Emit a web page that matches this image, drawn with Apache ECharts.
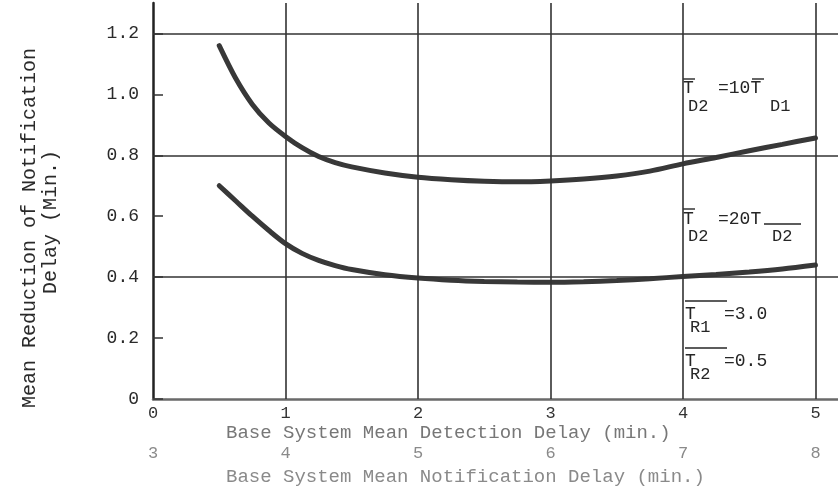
<!DOCTYPE html>
<html>
<head>
<meta charset="utf-8">
<script src="https://cdn.jsdelivr.net/npm/echarts@6/dist/echarts.min.js"></script>
<style>
  html, body { margin: 0; padding: 0; background: #fff; }
  #chart { width: 838px; height: 495px; }
</style>
</head>
<body>
<div id="chart"></div>
<script>
// Base system mean detection delay (min.)
const detectionDelay = [0.5, 0.625, 0.75, 0.875, 1, 1.125, 1.25, 1.375, 1.5, 1.75, 2, 2.25, 2.5, 2.75, 3,
                        3.25, 3.5, 3.75, 4, 4.25, 4.5, 4.75, 5];
// Mean reduction of notification delay, T_D2 = 10 T_D1
const reduction10x = [1.16, 1.052, 0.967, 0.906, 0.862, 0.825, 0.796, 0.776, 0.762, 0.742, 0.728,
                      0.720, 0.715, 0.713, 0.716, 0.722, 0.732, 0.748, 0.772, 0.793, 0.815, 0.836, 0.857];
// Mean reduction of notification delay, T_D2 = 20 T_D2
const reduction20x = [0.70, 0.65, 0.60, 0.553, 0.51, 0.478, 0.455, 0.438, 0.425, 0.408, 0.397,
                      0.390, 0.386, 0.384, 0.383, 0.385, 0.389, 0.395, 0.402, 0.409, 0.417, 0.427, 0.44];

const detectionTicks = [0, 1, 2, 3, 4, 5];
const notificationTicks = [3, 4, 5, 6, 7, 8];
const reductionTicks = [0, 0.2, 0.4, 0.6, 0.8, 1.0, 1.2];
const gridRows = [0.4, 0.8, 1.2];
const gridCols = [1, 2, 3, 4, 5];

const MONO = '"Liberation Mono", "DejaVu Sans Mono", monospace';
const ink = '#262626';

const chart = echarts.init(document.getElementById('chart'), null, { renderer: 'canvas' });

function pairs(xs, ys) { return xs.map((x, i) => [x, ys[i]]); }

// typed-style annotation pieces: main text, lowered subscripts and overlines
function annot(items) {
  const els = [];
  items.forEach(it => {
    if (it.kind === 'line') {
      els.push({ type: 'line', shape: { x1: it.x1, y1: it.y, x2: it.x2, y2: it.y },
        style: { stroke: ink, lineWidth: 1.4 } });
    } else {
      els.push({ type: 'text', x: it.x, y: it.y,
        style: { text: it.t, font: (it.size || 18) + 'px ' + MONO, fill: ink,
                 align: 'left', verticalAlign: 'middle' } });
    }
  });
  return els;
}

const annotations = annot([
  // T_D2 = 10 T_D1
  { kind: 'line', x1: 683, x2: 695, y: 79 },
  { t: 'T', x: 683, y: 88 },
  { t: 'D2', x: 688, y: 106, size: 17 },
  { t: '=10T', x: 718, y: 88 },
  { kind: 'line', x1: 752, x2: 764, y: 79 },
  { t: 'D1', x: 770, y: 106, size: 17 },
  // T_D2 = 20 T_D2
  { kind: 'line', x1: 683, x2: 695, y: 209 },
  { t: 'T', x: 683, y: 219 },
  { t: 'D2', x: 688, y: 236, size: 17 },
  { t: '=20T', x: 718, y: 219 },
  { kind: 'line', x1: 764, x2: 801, y: 224 },
  { t: 'D2', x: 772, y: 236, size: 17 },
  // T_R1 = 3.0
  { kind: 'line', x1: 685, x2: 727, y: 301 },
  { t: 'T', x: 685, y: 314 },
  { t: 'R1', x: 690, y: 327, size: 17 },
  { t: '=3.0', x: 724, y: 314 },
  // T_R2 = 0.5
  { kind: 'line', x1: 685, x2: 727, y: 348 },
  { t: 'T', x: 685, y: 361 },
  { t: 'R2', x: 690, y: 374, size: 17 },
  { t: '=0.5', x: 724, y: 361 }
]);

const titles = [
  { type: 'text', x: 226, y: 433,
    style: { text: 'Base System Mean Detection Delay (min.)', font: '19px ' + MONO,
             fill: '#777', align: 'left', verticalAlign: 'middle' } },
  { type: 'text', x: 226, y: 477,
    style: { text: 'Base System Mean Notification Delay (min.)', font: '19px ' + MONO,
             fill: '#8a8a8a', align: 'left', verticalAlign: 'middle' } },
  { type: 'text', x: 30, y: 228, rotation: Math.PI / 2,
    style: { text: 'Mean Reduction of Notification', font: '20px ' + MONO,
             fill: '#2a2a2a', align: 'center', verticalAlign: 'middle' } },
  { type: 'text', x: 51, y: 222, rotation: Math.PI / 2,
    style: { text: 'Delay (Min.)', font: '20px ' + MONO,
             fill: '#2a2a2a', align: 'center', verticalAlign: 'middle' } }
];

const curveStyle = { color: '#383838', width: 5, cap: 'round' };

chart.setOption({
  animation: false,
  backgroundColor: '#fff',
  grid: { left: 153, right: 0, top: 3, bottom: 96, containLabel: false },
  xAxis: [
    {
      type: 'value', min: 0, max: 5.17,
      axisLine: { show: true, lineStyle: { color: '#6a6a6a', width: 2.5 } },
      axisTick: { show: false },
      splitLine: { show: false },
      axisLabel: { customValues: detectionTicks, color: '#333', fontFamily: MONO, fontSize: 17, margin: 6 }
    },
    {
      type: 'value', min: 3, max: 8.17, position: 'bottom', offset: 46,
      axisLine: { show: false }, axisTick: { show: false }, splitLine: { show: false },
      axisLabel: { customValues: notificationTicks, color: '#8a8a8a', fontFamily: MONO, fontSize: 17, margin: 0 }
    }
  ],
  yAxis: {
    type: 'value', min: 0, max: 1.3,
    axisLine: { show: true, onZero: false, lineStyle: { color: '#222', width: 2.5 } },
    axisTick: { show: true, inside: true, length: 10, customValues: reductionTicks,
                lineStyle: { color: '#333', width: 1.5 } },
    splitLine: { show: false },
    axisLabel: { customValues: reductionTicks, formatter: v => (v === 0 ? '0' : v.toFixed(1)),
                 color: '#2a2a2a', fontFamily: MONO, fontSize: 18, margin: 14 }
  },
  series: [
    {
      type: 'line', name: 'T_D2=10T_D1', data: pairs(detectionDelay, reduction10x),
      smooth: 0.3, showSymbol: false, lineStyle: curveStyle, z: 3,
      markLine: {
        silent: true, symbol: 'none', label: { show: false },
        lineStyle: { color: '#333', width: 1.6, type: 'solid' },
        data: gridRows.map(v => ({ yAxis: v })).concat(gridCols.map(v => ({ xAxis: v })))
      }
    },
    {
      type: 'line', name: 'T_D2=20T_D2', data: pairs(detectionDelay, reduction20x),
      smooth: 0.3, showSymbol: false, lineStyle: curveStyle, z: 3
    }
  ],
  graphic: titles.concat(annotations)
});
</script>
</body>
</html>
